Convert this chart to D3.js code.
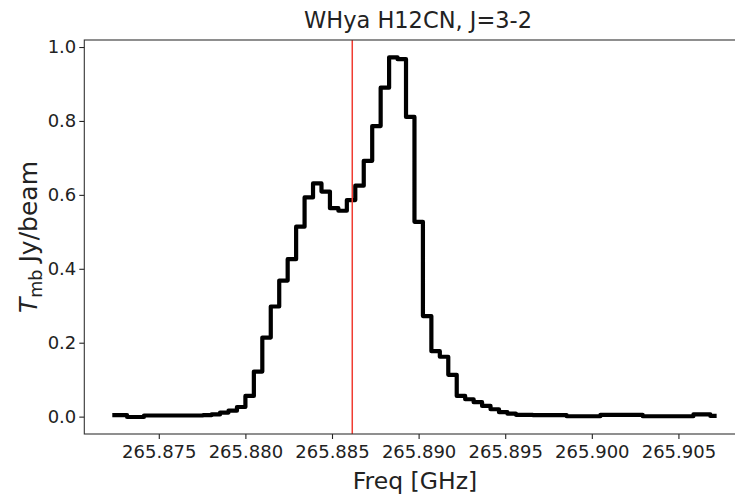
<!DOCTYPE html>
<html>
<head>
<meta charset="utf-8">
<script src="https://cdn.jsdelivr.net/npm/d3@7/dist/d3.min.js"></script>
<style>
  html, body { margin: 0; padding: 0; background: #fff; }
  svg { display: block; font-family: "DejaVu Sans", sans-serif; }
</style>
</head>
<body>
<svg id="chart" width="735" height="497"></svg>
<script>
// ---- data ----
const freqs = [
  265.872437, 265.872925, 265.873413, 265.873901, 265.874389, 265.874877,
  265.875365, 265.875853, 265.876341, 265.876829, 265.877317, 265.877805,
  265.878293, 265.878781, 265.879269, 265.879757, 265.880245, 265.880733,
  265.881221, 265.881709, 265.882197, 265.882685, 265.883173, 265.883661,
  265.884149, 265.884637, 265.885125, 265.885613, 265.886101, 265.886589,
  265.887077, 265.887565, 265.888053, 265.888541, 265.889029, 265.889517,
  265.890005, 265.890493, 265.890981, 265.891469, 265.891957, 265.892445,
  265.892933, 265.893421, 265.893909, 265.894397, 265.894885, 265.895373,
  265.895861, 265.896349, 265.896837, 265.897325, 265.897813, 265.898301,
  265.898789, 265.899277, 265.899765, 265.900253, 265.900741, 265.901229,
  265.901717, 265.902205, 265.902693, 265.903181, 265.903669, 265.904157,
  265.904645, 265.905133, 265.905621, 265.906109, 265.906597, 265.907085
];
const tmb = [
  0.004, 0.004, -0.001, -0.001, 0.003, 0.003,
  0.003, 0.003, 0.003, 0.003, 0.003, 0.004,
  0.006, 0.011, 0.016, 0.026, 0.056, 0.122,
  0.214, 0.298, 0.368, 0.426, 0.514, 0.593,
  0.631, 0.609, 0.564, 0.557, 0.586, 0.625,
  0.692, 0.786, 0.890, 0.972, 0.967, 0.811,
  0.527, 0.272, 0.177, 0.162, 0.113, 0.056,
  0.047, 0.039, 0.029, 0.020, 0.012, 0.008,
  0.005, 0.005, 0.004, 0.004, 0.004, 0.004,
  0.001, 0.001, 0.001, 0.001, 0.005, 0.005,
  0.005, 0.005, 0.005, 0.001, 0.001, 0.001,
  0.001, 0.001, 0.001, 0.006, 0.006, 0.002
];
const restFreq = 265.88617;
const xTicks = [265.875, 265.880, 265.885, 265.890, 265.895, 265.900, 265.905];
const yTicks = [0.0, 0.2, 0.4, 0.6, 0.8, 1.0];
const titleText = "WHya H12CN, J=3-2";
const xLabelText = "Freq [GHz]";

// ---- layout ----
const padL = 84.3, padR = 744.6, padT = 40, padB = 434;
const svg = d3.select("#chart");

const x = d3.scaleLinear().domain([265.870700, 265.908820]).range([padL, padR]);
const y = d3.scaleLinear().domain([-0.047, 1.019]).range([padB, padT]);

// spectrum (mid-step)
const pts = freqs.map((f, i) => [f, tmb[i]]);
const line = d3.line().x(d => x(d[0])).y(d => y(d[1])).curve(d3.curveStep);
svg.append("path")
  .attr("d", line(pts))
  .attr("fill", "none")
  .attr("stroke", "#000")
  .attr("stroke-width", 4.2)
  .attr("stroke-linejoin", "round")
  .attr("stroke-linecap", "square");

// rest frequency marker
svg.append("line")
  .attr("x1", x(restFreq)).attr("x2", x(restFreq))
  .attr("y1", padT).attr("y2", padB)
  .attr("stroke", "#f03c32")
  .attr("stroke-width", 1.5);

// axes
const xAxis = d3.axisBottom(x).tickValues(xTicks).tickFormat(d3.format(".3f")).tickSize(5).tickPadding(6);
const yAxis = d3.axisLeft(y).tickValues(yTicks).tickFormat(d3.format(".1f")).tickSize(5).tickPadding(3);

const gx = svg.append("g").attr("transform", `translate(0,${padB})`).call(xAxis);
const gy = svg.append("g").attr("transform", `translate(${padL},0)`).call(yAxis);
[gx, gy].forEach(g => {
  g.select(".domain").remove();
  g.selectAll(".tick line").attr("stroke", "#222").attr("stroke-width", 1.1);
  g.selectAll(".tick text").attr("fill", "#222").style("font-size", "18px").style("font-family", "DejaVu Sans");
});

// spines (left, bottom, top; right falls off the canvas)
svg.append("rect")
  .attr("x", padL).attr("y", padT)
  .attr("width", padR - padL).attr("height", padB - padT)
  .attr("fill", "none").attr("stroke", "#333").attr("stroke-width", 1.1);

// title
svg.append("text")
  .attr("x", 418).attr("y", 28)
  .attr("text-anchor", "middle")
  .attr("fill", "#222")
  .style("font-size", "22.5px")
  .text(titleText);

// x label
svg.append("text")
  .attr("x", 415).attr("y", 489)
  .attr("text-anchor", "middle")
  .attr("fill", "#222")
  .style("font-size", "23.5px")
  .text(xLabelText);

// y label
const yl = svg.append("text")
  .attr("transform", `translate(37,${(padT + padB) / 2}) rotate(-90)`)
  .attr("text-anchor", "middle")
  .attr("fill", "#222")
  .style("font-size", "25px");
yl.append("tspan").style("font-style", "italic").text("T");
yl.append("tspan").attr("dy", 5).style("font-size", "17.5px").text("mb");
yl.append("tspan").attr("dy", -5).attr("dx", 7).text("Jy/beam");
</script>
</body>
</html>
